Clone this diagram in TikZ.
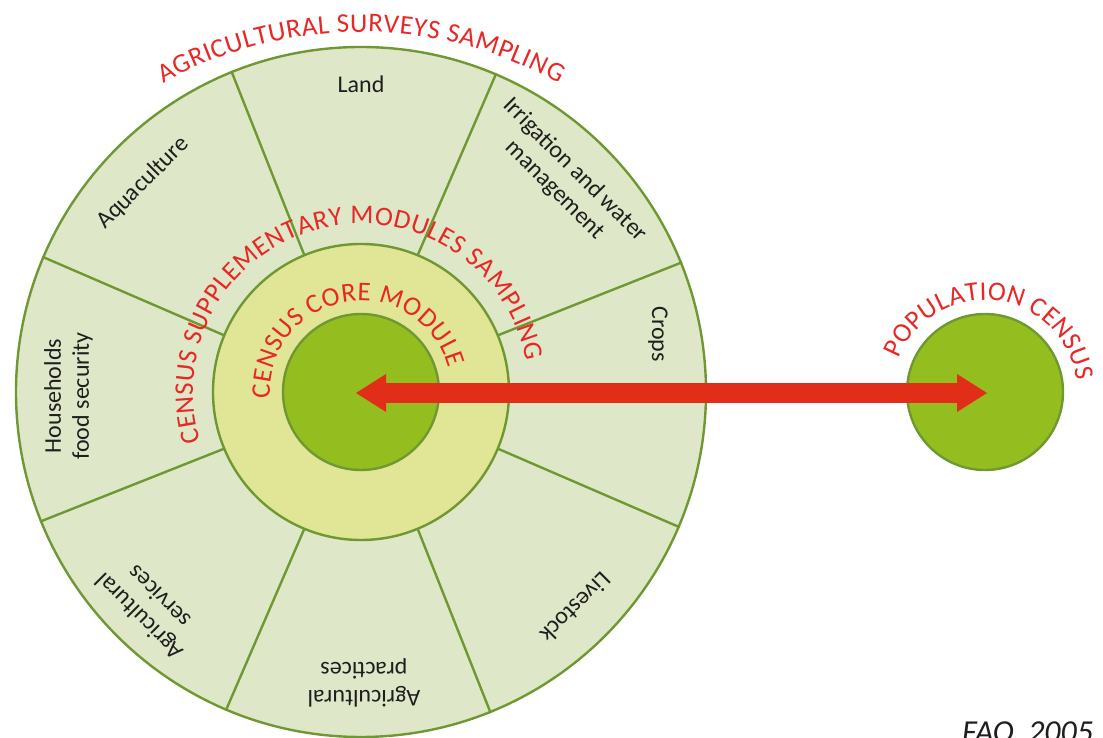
\documentclass[tikz,border=0pt]{standalone}
\usepackage{fontspec}
\setmainfont{Carlito}
\usetikzlibrary{arrows.meta,decorations.text}
\definecolor{ringline}{RGB}{112,152,50}
\definecolor{outerfill}{RGB}{222,232,200}
\definecolor{midfill}{RGB}{225,229,150}
\definecolor{corefill}{RGB}{148,190,32}
\definecolor{redtxt}{RGB}{232,40,38}
\definecolor{redarrow}{RGB}{225,46,24}
\definecolor{labeltxt}{RGB}{30,30,30}
\begin{document}
\begin{tikzpicture}[x=1pt,y=1pt,
  ring/.style={circle, draw=ringline, line width=2.4pt, inner sep=0pt},
  sector/.style={font=\fontsize{24}{28}\selectfont, text=labeltxt, align=center, inner sep=0pt},
  spoke/.style={draw=ringline, line width=2.4pt},
  arctext/.style={decorate, decoration={text along path, text align=fit to path, text color=redtxt,
     text={|\fontsize{27}{27}\selectfont|#1}}},
  bigarrow/.style={draw=redarrow, line width=20pt,
     {Triangle[length=30pt,width=38pt,line width=0pt]}-{Triangle[length=30pt,width=38pt,line width=0pt]}}
]
\clip (0,0) rectangle (1103,738);
\coordinate (C) at (361,346);
\coordinate (P) at (985,346);
% rings
\node[ring, fill=outerfill, minimum size=690pt] (outer) at (C) {};
\foreach \a in {22.5,67.5,...,337.5}
  \draw[spoke] (C) ++(\a:148) -- (outer.\a);
\node[ring, fill=midfill, minimum size=296pt] (mid) at (C) {};
\node[ring, fill=corefill, minimum size=156pt] (core) at (C) {};
\node[ring, fill=corefill, minimum size=156pt] (pop) at (P) {};
% sector labels
\node[sector] (land) at ([shift={(0,308)}]C) {Land};
\node[sector, rotate=-45] (irr) at ([shift={(204,212)}]C) {Irrigation and water\\management};
\node[sector, rotate=-90] (crops) at ([shift={(297,58)}]C) {Crops};
\node[sector, rotate=-135] (live) at ([shift={(215,-216)}]C) {Livestock};
\node[sector, rotate=180] (prac) at ([shift={(3,-291)}]C) {Agricultural\\practices};
\node[sector, rotate=135] (serv) at ([shift={(-212,-215)}]C) {Agricultural\\services};
\node[sector, rotate=90] (house) at ([shift={(-292.5,-4)}]C) {Households\\food security};
\node[sector, rotate=45] (aqua) at ([shift={(-218,209)}]C) {Aquaculture};
% curved titles
\path[arctext={AGRICULTURAL SURVEYS SAMPLING}] (361,298) ++(119:408) arc[start angle=119, end angle=61, radius=408];
\path[arctext={CENSUS SUPPLEMENTARY MODULES SAMPLING}] (C) ++(197:168) arc[start angle=197, end angle=10.5, radius=168];
\path[arctext={CENSUS CORE MODULE}] (C) ++(184:91) arc[start angle=184, end angle=15, radius=91];
\path[arctext={POPULATION CENSUS}] (P) ++(159:92) arc[start angle=159, end angle=7, radius=92];
% arrow
\draw[bigarrow] ([xshift=-5pt,yshift=-1pt]core.center) -- ([xshift=2pt,yshift=-1pt]pop.center);
% source
\node[anchor=base west, inner sep=0pt, font=\itshape\fontsize{32}{32}\selectfont, text=labeltxt] (fao) at (962,-5) {FAO, 2005};
\end{tikzpicture}
\end{document}
